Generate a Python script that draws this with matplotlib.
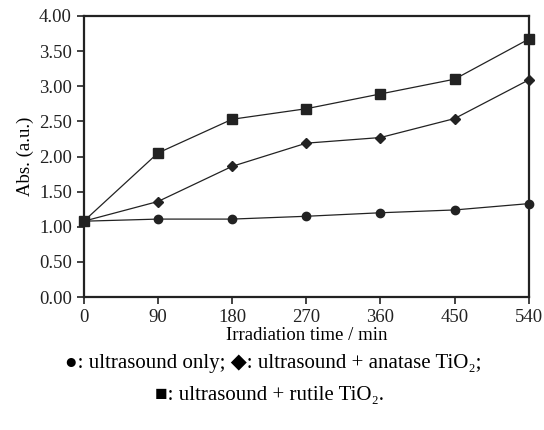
import matplotlib.pyplot as plt

plt.rcParams['font.family'] = ['Liberation Serif', 'DejaVu Sans']

time_min = [0, 90, 180, 270, 360, 450, 540]
us_only = [1.08, 1.11, 1.11, 1.15, 1.20, 1.24, 1.33]
us_anatase = [1.08, 1.36, 1.86, 2.19, 2.27, 2.54, 3.09]
us_rutile = [1.08, 2.05, 2.53, 2.68, 2.89, 3.10, 3.67]

fig = plt.figure(figsize=(5.44, 4.30), dpi=100)
ax = fig.add_axes([0.154, 0.309, 0.818, 0.654])

ax.plot(time_min, us_only, color='#222222', lw=0.9, marker='o', ms=6, clip_on=False, zorder=3)
ax.plot(time_min, us_anatase, color='#222222', lw=0.9, marker='D', ms=5.5, clip_on=False, zorder=3)
ax.plot(time_min, us_rutile, color='#222222', lw=0.9, marker='s', ms=7, clip_on=False, zorder=3)

ax.set_xlim(0, 540)
ax.set_ylim(0, 4)
ax.set_xticks(time_min)
ax.set_yticks([0, 0.5, 1, 1.5, 2, 2.5, 3, 3.5, 4])
ax.set_yticklabels(['%.2f' % v for v in ax.get_yticks()])
ax.tick_params(direction='out', length=5, width=1.2, labelsize=13.5, colors='#222222')
for s in ax.spines.values():
    s.set_linewidth(1.6)
    s.set_color('#222222')

ax.set_xlabel('Irradiation time / min', fontsize=13.5, labelpad=1)
ax.set_ylabel('Abs. (a.u.)', fontsize=13.5, labelpad=4)

fig.text(0.502, 0.155, '●: ultrasound only; ◆: ultrasound + anatase TiO₂;',
         ha='center', va='center', fontsize=15)
fig.text(0.495, 0.08, '■: ultrasound + rutile TiO₂.',
         ha='center', va='center', fontsize=15)

fig.savefig('out.png', dpi=100)
